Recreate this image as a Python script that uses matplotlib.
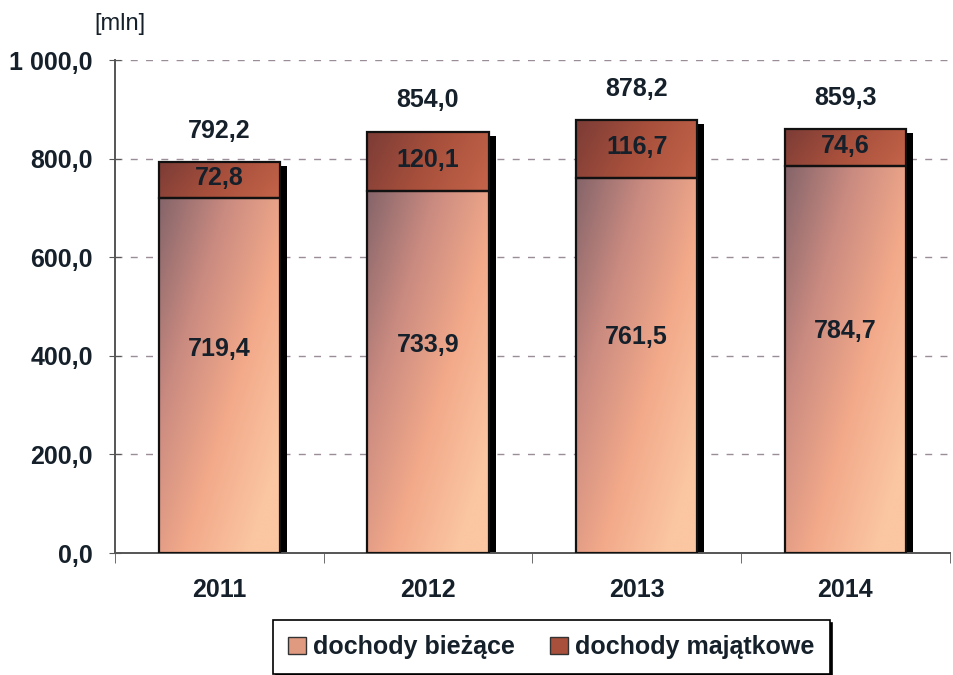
import numpy as np
import matplotlib
matplotlib.use('Agg')
import matplotlib.pyplot as plt
import matplotlib.transforms as mtransforms
from matplotlib.colors import LinearSegmentedColormap
from matplotlib.patches import Patch, Rectangle

plt.rcParams['font.family'] = ['Liberation Sans', 'DejaVu Sans']

years = ['2011', '2012', '2013', '2014']
biezace = [719.4, 733.9, 761.5, 784.7]
majatkowe = [72.8, 120.1, 116.7, 74.6]
totals = [792.2, 854.0, 878.2, 859.3]

cmap_low = LinearSegmentedColormap.from_list('low', ['#86656a', '#c98a80', '#f2a98a', '#fbc6a2'])
cmap_top = LinearSegmentedColormap.from_list('top', ['#7c3c36', '#a8503c', '#c4644a'])

fig = plt.figure(figsize=(9.54, 6.75), dpi=100)
ax = fig.add_axes([0.1205, 0.1807, 0.875, 0.7304])

x = np.arange(len(years))
width = 0.58
ax.set_xlim(-0.5, 3.42)
ax.set_ylim(0, 1000)


def grad_fill(bar, cmap, wx, wy):
    # gradient inside the bar, darker top-left, lighter bottom-right
    x0, y0 = bar.get_x(), bar.get_y()
    w, h = bar.get_width(), bar.get_height()
    xf = np.linspace(0, 1, 60)[None, :]
    yf = np.linspace(1, 0, 60)[:, None]
    t = np.clip(wx * xf + wy * (1 - yf), 0, 1)
    im = ax.imshow(t, cmap=cmap, vmin=0, vmax=1, aspect='auto',
                   extent=(x0, x0 + w, y0, y0 + h), zorder=2, interpolation='bilinear')
    im.set_clip_path(bar)


shadow_tr = mtransforms.offset_copy(ax.transData, fig=fig, x=7, y=-4, units='dots')
for xi, tot in zip(x, totals):
    ax.add_patch(Rectangle((xi - width / 2, 0), width, tot, facecolor='black',
                           edgecolor='none', transform=shadow_tr, zorder=1.5))

bars_low = ax.bar(x, biezace, width, facecolor='none', edgecolor='#111111', linewidth=1.6, zorder=3)
bars_top = ax.bar(x, majatkowe, width, bottom=biezace, facecolor='none',
                  edgecolor='#111111', linewidth=1.6, zorder=3)
for b in bars_low:
    grad_fill(b, cmap_low, 0.6, 0.55)
for b in bars_top:
    grad_fill(b, cmap_top, 0.8, 0.2)

lab = dict(ha='center', va='center', fontsize=18, fontweight='bold', color='#15202a', zorder=5)
for xi, lo, hi, tot in zip(x, biezace, majatkowe, totals):
    ax.text(xi, lo * 0.575, '{:.1f}'.format(lo).replace('.', ','), **lab)
    ax.text(xi, lo + hi / 2 + 4, '{:.1f}'.format(hi).replace('.', ','), **lab)
    ax.text(xi, tot + 64, '{:.1f}'.format(tot).replace('.', ','), **lab)

ax.set_yticks(np.arange(0, 1001, 200))
ax.set_yticklabels(['0,0', '200,0', '400,0', '600,0', '800,0', '1 000,0'],
                   fontsize=18, fontweight='bold', color='#15202a')
ax.set_xticks(x)
ax.set_xticklabels(years, fontsize=18, fontweight='bold', color='#15202a')
ax.set_xticks(np.arange(-0.5, 3.6, 1.0), minor=True)
ax.tick_params(axis='x', which='major', length=0, pad=18)
ax.tick_params(axis='x', which='minor', length=7, color='#555555', direction='out')
ax.tick_params(axis='y', length=8, color='#555555', direction='inout', pad=12)
ax.yaxis.grid(True, linestyle=(0, (5, 6)), color='#9a8c98', linewidth=1.0)
ax.set_axisbelow(True)
for s in ['top', 'right']:
    ax.spines[s].set_visible(False)
for s in ['left', 'bottom']:
    ax.spines[s].set_color('#555555')
    ax.spines[s].set_linewidth(1.4)

fig.text(0.099, 0.965, '[mln]', fontsize=17, color='#15202a', ha='left', va='center')

handles = [Patch(facecolor='#e09a80', edgecolor='#333333', label='dochody bieżące'),
           Patch(facecolor='#a8503c', edgecolor='#333333', label='dochody majątkowe')]
leg = fig.legend(handles=handles, loc='center', bbox_to_anchor=(0.578, 0.041), ncol=2,
                 fancybox=False, shadow={'color': 'black', 'alpha': 1.0},
                 prop={'size': 18, 'weight': 'bold'}, handlelength=0.7, handleheight=0.7,
                 handletextpad=0.3, columnspacing=1.4, borderpad=0.6, frameon=True)
leg.get_frame().set_edgecolor('black')
leg.get_frame().set_linewidth(1.2)
for t in leg.get_texts():
    t.set_color('#15202a')

fig.savefig('out.png', dpi=100)
